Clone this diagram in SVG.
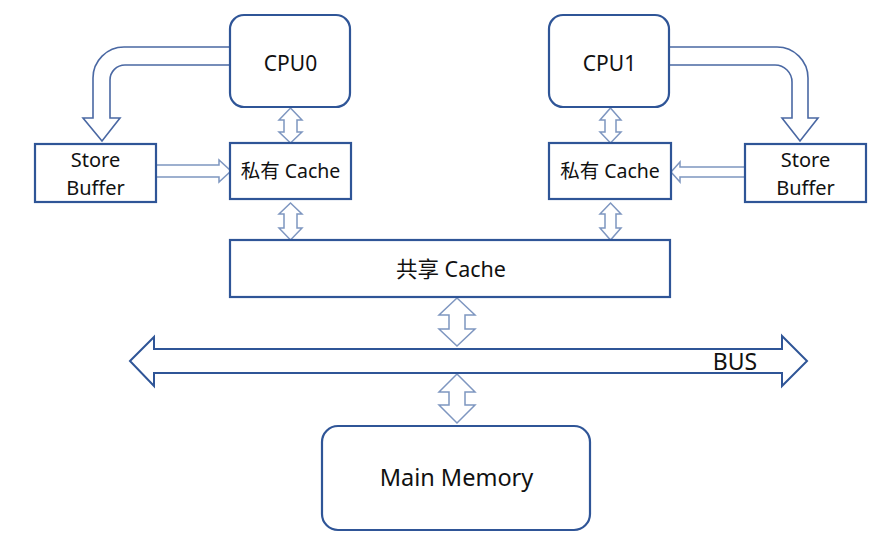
<svg xmlns="http://www.w3.org/2000/svg" width="882" height="545" viewBox="0 0 882 545">
<style>
.box{fill:#fff;stroke:#2F5597;stroke-width:2.2}
.t{font-family:"Noto Sans","Noto Sans CJK SC",sans-serif;fill:#111;text-anchor:middle}
.arr{fill:#fff;stroke:#7E96C0;stroke-width:1.5;stroke-linejoin:miter}
.big{fill:#fff;stroke:#4A68A3;stroke-width:1.6}
.bus{fill:#fff;stroke:#2F5597;stroke-width:2}
</style>
<rect width="882" height="545" fill="#fff"/>
<g id="connectors">
<path class="big" d="M230,47 H124 A31,31 0 0 0 93,78 V118 H83 L102,141 L120,118 H110 V80 A15,15 0 0 1 125,65 H230"/>
<path class="big" d="M669,47 H777 A31,31 0 0 1 808,78 V118 H818 L800,141 L782,118 H792 V82 A17,17 0 0 0 775,65 H669"/>
<path class="arr" d="M156,165 H219 V160 L231,171 L219,182 V177 H156"/>
<path class="arr" d="M745,167 H680 V162 L671,172 L680,182 V177 H745"/>
<path class="arr" d="M290.5,108 L302,120 H297 V132 H302 L290.5,143 L279,132 H284 V120 H279 Z"/>
<path class="arr" d="M290.5,203 L302,214 H297 V228 H302 L290.5,240 L279,228 H284 V214 H279 Z"/>
<path class="arr" d="M610.5,108 L621,120 H616 V132 H621 L610.5,143 L600,132 H605 V120 H600 Z"/>
<path class="arr" d="M610.5,203 L621,214 H616 V228 H621 L610.5,240 L600,228 H605 V214 H600 Z"/>
<path class="arr" d="M457,298 L475,315 H465 V329 H475 L457,346 L439,329 H449 V315 H439 Z"/>
<path class="arr" d="M457,374 L475,392 H465 V405 H475 L457,423 L439,405 H449 V392 H439 Z"/>
<path class="bus" d="M130,361 L154,337 V349 H782 V336 L807,361 L782,386 V373 H154 V386 Z"/>
</g>
<g id="cpu0"><rect class="box" x="230" y="15" width="120" height="92" rx="14"/><text class="t" x="290.5" y="71" font-size="21">CPU0</text></g>
<g id="cpu1"><rect class="box" x="549" y="15" width="120" height="92" rx="14"/><text class="t" x="609.5" y="71" font-size="21">CPU1</text></g>
<g id="sb0"><rect class="box" x="35" y="144" width="121" height="58"/><text class="t" x="95.5" y="167" font-size="20">Store</text><text class="t" x="95.5" y="195" font-size="20">Buffer</text></g>
<g id="sb1"><rect class="box" x="745" y="144" width="121" height="58"/><text class="t" x="805.5" y="167" font-size="20">Store</text><text class="t" x="805.5" y="195" font-size="20">Buffer</text></g>
<g id="pc0"><rect class="box" x="230" y="143" width="121" height="56"/><text class="t" x="290.5" y="178" font-size="19.5">私有 Cache</text></g>
<g id="pc1"><rect class="box" x="549" y="143" width="122" height="56"/><text class="t" x="610" y="178" font-size="19.5">私有 Cache</text></g>
<g id="shared"><rect class="box" x="230" y="240" width="440" height="57"/><text class="t" x="451" y="277" font-size="21.5">共享 Cache</text></g>
<g id="bus"><text class="t" x="735" y="370" font-size="23">BUS</text></g>
<g id="mem"><rect class="box" x="322" y="426" width="268" height="104" rx="16"/><text class="t" x="456.5" y="486" font-size="23.5">Main Memory</text></g>
</svg>
